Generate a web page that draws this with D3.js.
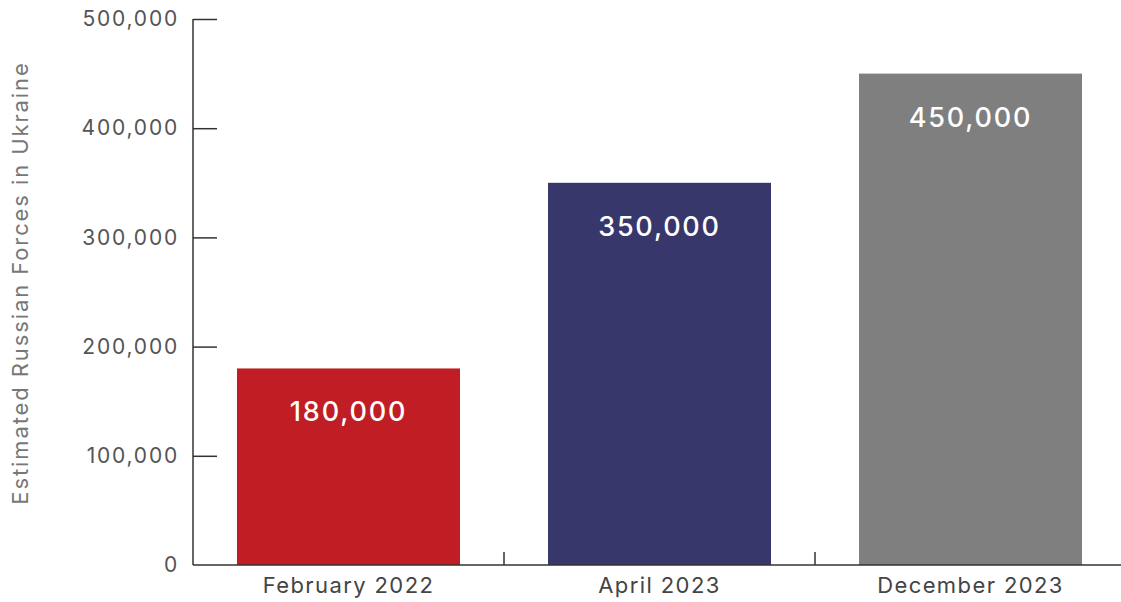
<!DOCTYPE html>
<html>
<head>
<meta charset="utf-8">
<script src="https://cdn.jsdelivr.net/npm/d3@7"></script>
<style>
  body { margin: 0; background: #fff; }
  svg text { font-family: "Inter", "Lato", sans-serif; }
</style>
</head>
<body>
<svg width="1121" height="602"></svg>
<script>
var categories = ["February 2022", "April 2023", "December 2023"];
var values = [180000, 350000, 450000];
var barColors = ["#c01e24", "#38376b", "#7f7f7f"];
var yTicks = [0, 100000, 200000, 300000, 400000, 500000];

var svg = d3.select("svg"),
    margin = { top: 19, right: 0, bottom: 37, left: 193 },
    width = +svg.attr("width") - margin.left - margin.right,
    height = +svg.attr("height") - margin.top - margin.bottom,
    g = svg.append("g").attr("transform", "translate(" + margin.left + "," + margin.top + ")");

var x = d3.scaleBand()
    .domain(categories)
    .range([0, 933])
    .paddingInner(0.283)
    .paddingOuter(0.1415);

var y = d3.scaleLinear()
    .domain([0, 500000])
    .range([height, 0]);

var fmt = d3.format(",");

// y axis: ticks point inward
var yAxis = g.append("g")
    .call(d3.axisRight(y).tickValues(yTicks).tickSize(24).tickFormat(fmt));
yAxis.select(".domain").attr("stroke", "#333").attr("stroke-width", 1.5).attr("d", "M0," + height + "V0");
yAxis.selectAll(".tick line").attr("stroke", "#333").attr("stroke-width", 1.5);
yAxis.selectAll(".tick text")
    .attr("x", -14)
    .attr("text-anchor", "end")
    .attr("fill", "#555")
    .style("font-size", "21px")
    .style("letter-spacing", "1.8px");
yAxis.selectAll(".tick").filter(function (d) { return d === 0; }).select("line").remove();

// bars
g.selectAll(".bar")
    .data(values)
    .enter().append("rect")
    .attr("x", function (d, i) { return x(categories[i]); })
    .attr("y", function (d) { return y(d); })
    .attr("width", x.bandwidth())
    .attr("height", function (d) { return height - y(d); })
    .attr("fill", function (d, i) { return barColors[i]; });

g.selectAll(".val")
    .data(values)
    .enter().append("text")
    .attr("x", function (d, i) { return x(categories[i]) + x.bandwidth() / 2; })
    .attr("y", function (d) { return y(d) + 53; })
    .attr("text-anchor", "middle")
    .attr("fill", "#fff")
    .style("font-size", "27px")
    .style("font-weight", "500")
    .style("letter-spacing", "1.8px")
    .text(function (d) { return fmt(d); });

// x axis: ticks between categories, pointing up
var xb = g.append("g").attr("transform", "translate(0," + height + ")");
xb.append("line")
    .attr("x1", 0).attr("x2", 930)
    .attr("stroke", "#333").attr("stroke-width", 1.5);
xb.selectAll(".sep")
    .data(categories.slice(1))
    .enter().append("line")
    .attr("x1", function (d) { return x(d) - x.step() * x.paddingInner() / 2; })
    .attr("x2", function (d) { return x(d) - x.step() * x.paddingInner() / 2; })
    .attr("y1", 0).attr("y2", -13)
    .attr("stroke", "#333").attr("stroke-width", 1.5);
xb.selectAll(".cat")
    .data(categories)
    .enter().append("text")
    .attr("x", function (d) { return x(d) + x.bandwidth() / 2; })
    .attr("y", 28)
    .attr("text-anchor", "middle")
    .attr("fill", "#444")
    .style("font-size", "22px")
    .style("letter-spacing", "1.4px")
    .text(function (d) { return d; });

// y axis title
svg.append("text")
    .attr("transform", "rotate(-90)")
    .attr("x", -283)
    .attr("y", 28)
    .attr("text-anchor", "middle")
    .attr("fill", "#777")
    .style("font-size", "22px")
    .style("letter-spacing", "1.9px")
    .text("Estimated Russian Forces in Ukraine");
</script>
</body>
</html>
